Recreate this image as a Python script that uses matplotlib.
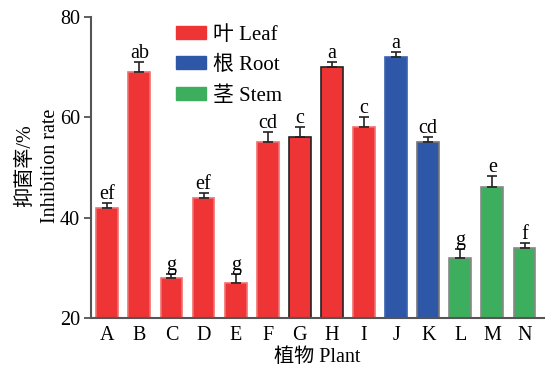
import matplotlib.pyplot as plt
from matplotlib.patches import Patch

plants = ['A', 'B', 'C', 'D', 'E', 'F', 'G', 'H', 'I', 'J', 'K', 'L', 'M', 'N']
rates = [42, 69, 28, 44, 27, 55, 56, 70, 58, 72, 55, 32, 46, 34]
errors = [1, 2, 0.8, 0.9, 1.8, 2, 2, 1, 2, 0.9, 1, 1.8, 2.2, 1]
letters = ['ef', 'ab', 'g', 'ef', 'g', 'cd', 'c', 'a', 'c', 'a', 'cd', 'g', 'e', 'f']
organs = ['Leaf'] * 9 + ['Root'] * 2 + ['Stem'] * 3

colors = {'Leaf': '#EE3434', 'Root': '#2E58A7', 'Stem': '#3DAE5E'}
edges = ['#F07070'] * 6 + ['#222222', '#222222'] + ['#F07070'] + ['#3A62B0', '#777777'] + ['#888888'] * 3
labels = {'Leaf': '叶 Leaf', 'Root': '根 Root', 'Stem': '茎 Stem'}

plt.rcParams['font.family'] = ['Liberation Serif', 'Noto Sans CJK SC']

fig = plt.figure(figsize=(5.56, 3.72), dpi=100)
ax = fig.add_axes([0.164, 0.145, 0.814, 0.81])

x = range(len(plants))
ax.bar(x, [r - 20 for r in rates], bottom=20, width=0.68,
       color=[colors[o] for o in organs], edgecolor=edges, linewidth=1.2)
ax.errorbar(x, rates, yerr=[[0] * len(errors), errors], fmt='none',
            ecolor='#222222', elinewidth=1.2, capsize=3.6, capthick=1.2)
for i in x:
    ax.text(i, rates[i] + errors[i] - 0.2, letters[i], ha='center', va='bottom', fontsize=14.5)

ax.set_xlim(-0.5, 13.6)
ax.set_ylim(20, 80)
ax.set_yticks([20, 40, 60, 80])
ax.set_xticks(list(x))
ax.set_xticklabels(plants)
ax.tick_params(axis='x', length=0, labelsize=14.5, pad=6)
ax.tick_params(axis='y', length=5, width=1.2, labelsize=14.5, color='#444444', pad=3)
for s in ['top', 'right']:
    ax.spines[s].set_visible(False)
for s in ['left', 'bottom']:
    ax.spines[s].set_color('#555555')
    ax.spines[s].set_linewidth(1.5)

ax.set_xlabel('植物 Plant', fontsize=14.5, labelpad=1)
ax.xaxis.set_label_coords(0.5, -0.1)
fig.text(0.046, 0.555, '抑菌率/%', rotation=90, ha='center', va='center', fontsize=14.5)
fig.text(0.091, 0.555, 'Inhibition rate', rotation=90, ha='center', va='center', fontsize=14.5)

handles = [Patch(facecolor=colors[k], edgecolor=colors[k], label=labels[k]) for k in ['Leaf', 'Root', 'Stem']]
ax.legend(handles=handles, loc='upper left', bbox_to_anchor=(0.165, 1.005), frameon=False, borderpad=0,
          fontsize=15, handlelength=1.45, handleheight=0.58, handletextpad=0.3, labelspacing=0.55)

fig.savefig('out.png', dpi=100)
